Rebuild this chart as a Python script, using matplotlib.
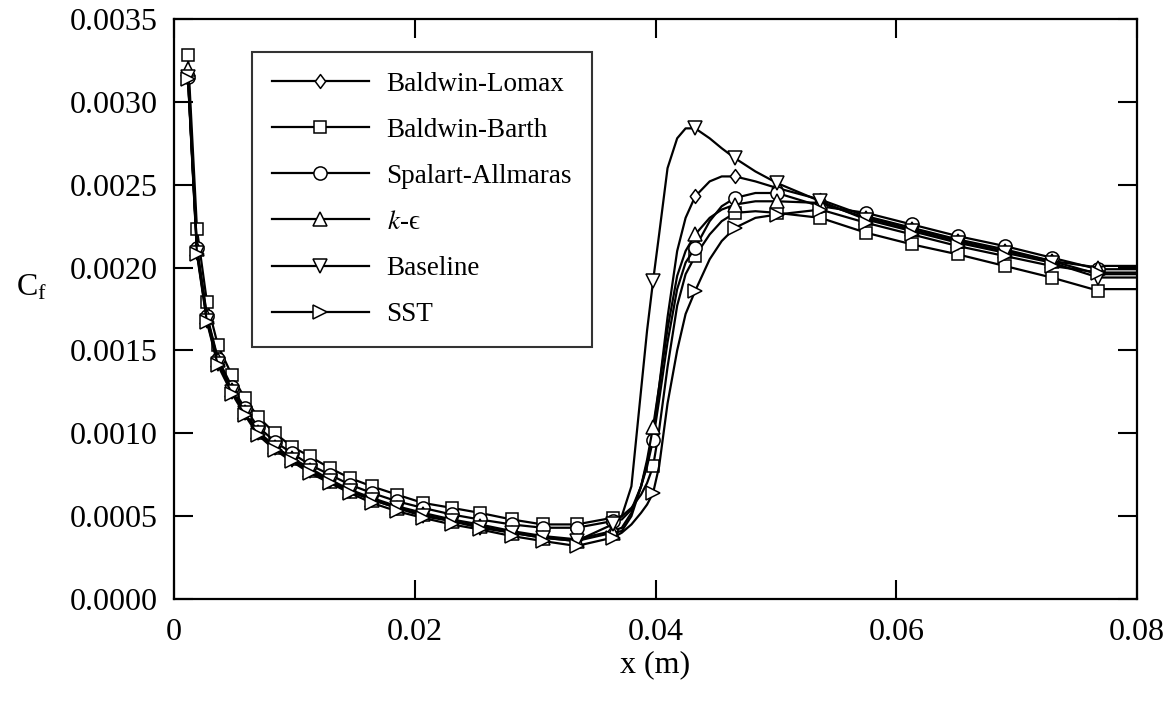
import matplotlib
matplotlib.use("Agg")
import matplotlib.pyplot as plt
from matplotlib.path import Path

plt.rcParams['font.family'] = ['Liberation Serif', 'DejaVu Serif']
plt.rcParams['mathtext.fontset'] = 'stix'

# ---------------- data ----------------
# shared x grid (m)
x_grid = [0.00116, 0.00191, 0.00274, 0.00365, 0.00481, 0.00589, 0.00697, 0.00838,
          0.00979, 0.01129, 0.01295, 0.01461, 0.01643, 0.01851, 0.02066, 0.02307,
          0.02539, 0.02805, 0.03062, 0.03344, 0.03643,
          0.0372, 0.0380, 0.0388, 0.0393, 0.0398, 0.0403, 0.0410, 0.0418, 0.0425,
          0.0433, 0.0445, 0.0455, 0.0466, 0.0483, 0.0501, 0.0537,
          0.0575, 0.0613, 0.0651, 0.0690, 0.0729, 0.0768, 0.0773, 0.0800]

# indices of grid points that carry a symbol
marker_idx = list(range(21)) + [25, 30, 33, 35, 36, 37, 38, 39, 40, 41, 42]

labels = ["Baldwin-Lomax", "Baldwin-Barth", "Spalart-Allmaras",
          "$k$-\u03f5", "Baseline", "SST"]

cf_baldwin_lomax = [0.00316, 0.00210, 0.00169, 0.00143, 0.00126, 0.00113, 0.00101, 0.00092,
                    0.00085, 0.00079, 0.00072, 0.00066, 0.00061, 0.00056, 0.00052, 0.00048,
                    0.00045, 0.00041, 0.00038, 0.00036, 0.00041,
                    0.00043, 0.00052, 0.00068, 0.00082, 0.00100, 0.00128, 0.00170, 0.00210, 0.00230,
                    0.00243, 0.00252, 0.00255, 0.00255, 0.00252, 0.00248, 0.00241,
                    0.00231, 0.00224, 0.00217, 0.00211, 0.00204, 0.00196, 0.00196, 0.00196]
cf_baldwin_barth = [0.00328, 0.00223, 0.00179, 0.00153, 0.00135, 0.00121, 0.00110, 0.00100,
                    0.00092, 0.00086, 0.00079, 0.00073, 0.00068, 0.00063, 0.00058, 0.00055,
                    0.00052, 0.00048, 0.00045, 0.00045, 0.00049,
                    0.00050, 0.00055, 0.00063, 0.00070, 0.00080, 0.00102, 0.00140, 0.00177, 0.00196,
                    0.00207, 0.00220, 0.00228, 0.00233, 0.00234, 0.00233, 0.00230,
                    0.00221, 0.00214, 0.00208, 0.00201, 0.00194, 0.00186, 0.00187, 0.00187]
cf_spalart = [0.00315, 0.00212, 0.00171, 0.00145, 0.00128, 0.00115, 0.00104, 0.00095,
              0.00088, 0.00081, 0.00075, 0.00069, 0.00064, 0.00059, 0.00055, 0.00051,
              0.00048, 0.00045, 0.00043, 0.00043, 0.00047,
              0.00048, 0.00054, 0.00068, 0.00080, 0.00096, 0.00120, 0.00155, 0.00187, 0.00203,
              0.00212, 0.00228, 0.00237, 0.00242, 0.00245, 0.00245, 0.00237,
              0.00233, 0.00226, 0.00219, 0.00213, 0.00206, 0.00199, 0.00199, 0.00199]
cf_k_eps = [0.00320, 0.00211, 0.00170, 0.00144, 0.00126, 0.00113, 0.00101, 0.00092,
            0.00085, 0.00078, 0.00071, 0.00065, 0.00060, 0.00055, 0.00051, 0.00047,
            0.00044, 0.00040, 0.00037, 0.00035, 0.00040,
            0.00041, 0.00050, 0.00068, 0.00084, 0.00104, 0.00128, 0.00163, 0.00195, 0.00210,
            0.00220, 0.00230, 0.00235, 0.00238, 0.00240, 0.00240, 0.00239,
            0.00230, 0.00223, 0.00216, 0.00210, 0.00204, 0.00200, 0.00201, 0.00201]
cf_baseline = [0.00315, 0.00209, 0.00168, 0.00142, 0.00125, 0.00112, 0.00100, 0.00091,
               0.00084, 0.00077, 0.00071, 0.00065, 0.00060, 0.00055, 0.00050, 0.00047,
               0.00043, 0.00040, 0.00037, 0.00035, 0.00045,
               0.00050, 0.00068, 0.00126, 0.00162, 0.00192, 0.00220, 0.00260, 0.00278, 0.00284,
               0.00284, 0.00278, 0.00272, 0.00266, 0.00258, 0.00251, 0.00240,
               0.00229, 0.00222, 0.00215, 0.00209, 0.00203, 0.00194, 0.00194, 0.00194]
cf_sst = [0.00314, 0.00208, 0.00167, 0.00141, 0.00124, 0.00111, 0.00099, 0.00090,
          0.00083, 0.00076, 0.00070, 0.00064, 0.00058, 0.00053, 0.00049, 0.00045,
          0.00042, 0.00038, 0.00035, 0.00032, 0.00037,
          0.00040, 0.00045, 0.00052, 0.00057, 0.00064, 0.00080, 0.00118, 0.00150, 0.00172,
          0.00186, 0.00205, 0.00216, 0.00224, 0.00230, 0.00232, 0.00235,
          0.00227, 0.00220, 0.00213, 0.00207, 0.00201, 0.00197, 0.00197, 0.00197]

series = [cf_baldwin_lomax, cf_baldwin_barth, cf_spalart, cf_k_eps, cf_baseline, cf_sst]

x_ticks = [0.0, 0.02, 0.04, 0.06, 0.08]
x_ticklabels = ["0", "0.02", "0.04", "0.06", "0.08"]
y_ticks = [0.0, 0.0005, 0.0010, 0.0015, 0.0020, 0.0025, 0.0030, 0.0035]
y_ticklabels = ["0.0000", "0.0005", "0.0010", "0.0015", "0.0020", "0.0025", "0.0030", "0.0035"]

# ---------------- style ----------------
diamond = Path([(0, 1), (0.75, 0), (0, -1), (-0.75, 0), (0, 1)],
               [Path.MOVETO, Path.LINETO, Path.LINETO, Path.LINETO, Path.CLOSEPOLY])
markers = [diamond, 's', 'o', '^', 'v', '>']
msizes = [10, 9, 9.5, 9.5, 9.5, 9.5]

fig = plt.figure(figsize=(11.71, 7.04), dpi=100)
ax = fig.add_axes([174 / 1171, 105 / 704, 963 / 1171, 580 / 704])

for ys, lab, mk, ms in zip(series, labels, markers, msizes):
    ax.plot(x_grid, ys, color='black', lw=1.6, marker=mk, ms=ms,
            markevery=marker_idx, mfc='white', mec='black', mew=1.1, label=lab)

ax.set_xlim(0, 0.08)
ax.set_ylim(0, 0.0035)
ax.set_xticks(x_ticks)
ax.set_xticklabels(x_ticklabels)
ax.set_yticks(y_ticks)
ax.set_yticklabels(y_ticklabels)
ax.tick_params(direction='in', length=14, width=1.5, top=True, right=True,
               labelsize=23, color='black')
ax.tick_params(axis='x', pad=14)
ax.tick_params(axis='y', pad=12)
for sp in ax.spines.values():
    sp.set_linewidth(1.6)

ax.set_xlabel("x (m)", fontsize=23, labelpad=2)
ax.set_ylabel(r"C$_\mathregular{f}$", fontsize=23, rotation=0, va='center')
ax.yaxis.set_label_coords(-0.148, 0.535)

leg = ax.legend(loc='upper left', bbox_to_anchor=(0.081, 0.943), borderaxespad=0,
                fontsize=19.5, frameon=True, fancybox=False, edgecolor='black',
                handlelength=3.6, handletextpad=0.65, labelspacing=0.78,
                borderpad=0.72, numpoints=1)
leg.get_frame().set_linewidth(1.5)

fig.savefig("out.png", dpi=100)
